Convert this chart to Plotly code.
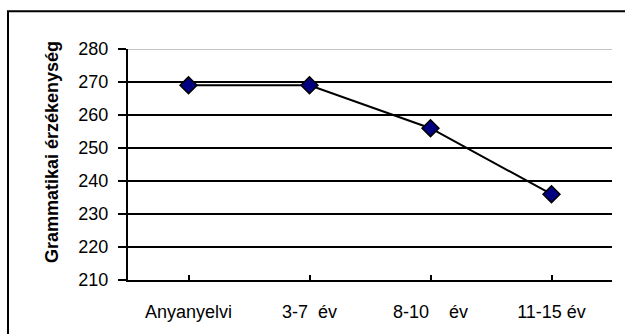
import plotly.graph_objects as go

categories = ["Anyanyelvi", "3-7\u00a0\u00a0év", "8-10\u00a0\u00a0\u00a0\u00a0év", "11-15 év"]
values = [269, 269, 256, 236]
y_ticks = [210, 220, 230, 240, 250, 260, 270, 280]
y_title = "Grammatikai érzékenység"

W, H = 625, 334
L, R, T, B = 128, 13, 49, 52
pw, ph = W - L - R, H - T - B

def px_x(px):
    return (px - L) / pw

def px_y(py):
    return (H - B - py) / ph

fig = go.Figure()
fig.add_trace(go.Scatter(
    x=list(range(len(categories))), y=values, mode="lines+markers",
    line=dict(color="black", width=2),
    marker=dict(symbol="diamond", size=13, color="#000080",
                line=dict(color="black", width=1.5)),
    showlegend=False, cliponaxis=False,
))

shapes = []
for v in y_ticks:
    if v == y_ticks[0]:
        continue
    shapes.append(dict(type="line", xref="paper", yref="y", x0=0, x1=1, y0=v, y1=v,
                       line=dict(color="#b0b0b0" if v == y_ticks[-1] else "black",
                                 width=1.5 if v == y_ticks[-1] else 2),
                       layer="below"))
shapes.append(dict(type="rect", xref="paper", yref="paper",
                   x0=px_x(8), x1=px_x(640), y0=px_y(350), y1=px_y(11),
                   line=dict(color="black", width=2), fillcolor="rgba(0,0,0,0)"))

fig.update_layout(
    width=W, height=H, margin=dict(l=L, r=R, t=T, b=B),
    paper_bgcolor="white", plot_bgcolor="white",
    font=dict(family="Liberation Sans, Arial, sans-serif", size=18, color="black"),
    shapes=shapes,
    xaxis=dict(range=[-0.5, len(categories) - 0.5], tickmode="array",
               tickvals=list(range(len(categories))), ticktext=categories,
               tickson="boundaries", ticks="inside", ticklen=5, tickwidth=2,
               tickcolor="black", showline=True, linecolor="black", linewidth=2,
               showgrid=False, zeroline=False, ticklabelstandoff=14,
               tickfont=dict(size=18)),
    yaxis=dict(range=[y_ticks[0], y_ticks[-1]], tickmode="array", tickvals=y_ticks,
               ticks="outside", ticklen=8, tickwidth=2, tickcolor="black",
               showline=True, linecolor="black", linewidth=2, showgrid=False,
               zeroline=False, tickfont=dict(size=18), ticklabelstandoff=6),
    annotations=[dict(text="<b>" + y_title + "</b>", xref="paper", yref="paper",
                      x=px_x(52), y=px_y(153), xanchor="center", yanchor="middle",
                      textangle=-90, showarrow=False, font=dict(size=18))],
)

fig.write_html("out.html")
